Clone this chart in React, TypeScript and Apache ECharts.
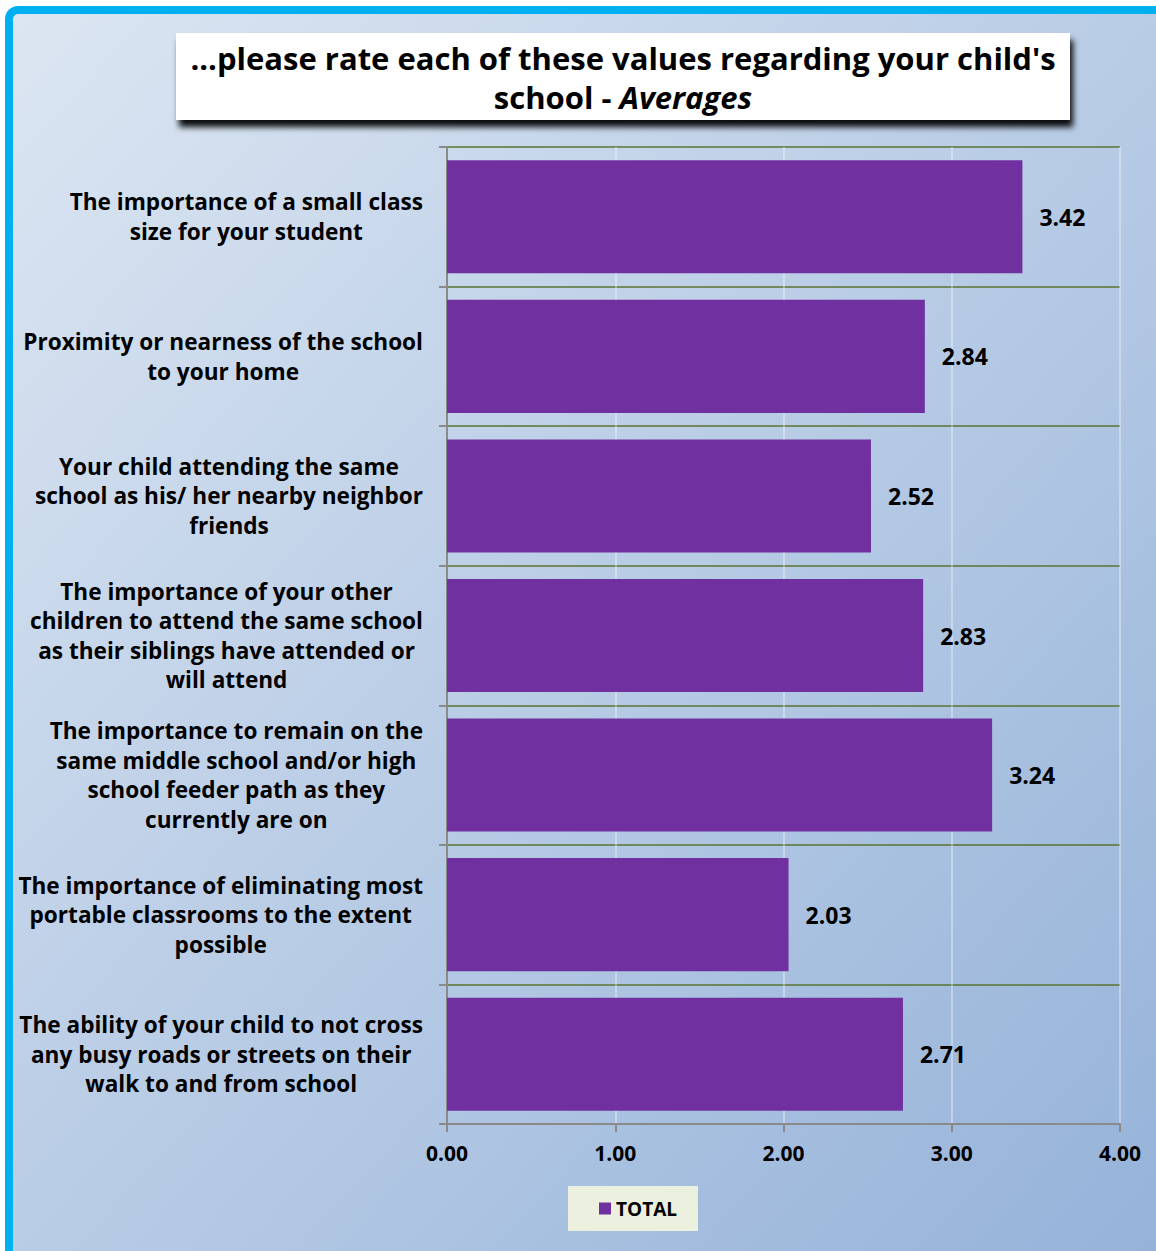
import React, { useEffect, useRef } from "react";
import * as echarts from "echarts";

const categories: string[] = [
  "The importance of a small class\nsize for your student",
  "Proximity or nearness of the school\nto your home",
  "Your child attending the same\nschool as his/ her nearby neighbor\nfriends",
  "The importance of your other\nchildren to attend the same school\nas their siblings have attended or\nwill attend",
  "The importance to remain on the\nsame middle school and/or high\nschool feeder path as they\ncurrently are on",
  "The importance of eliminating most\nportable classrooms to the extent\npossible",
  "The ability of your child to not cross\nany busy roads or streets on their\nwalk to and from school",
];
const totals: number[] = [3.42, 2.84, 2.52, 2.83, 3.24, 2.03, 2.71];
const seriesName = "TOTAL";
const xMin = 0;
const xMax = 4;
const xInterval = 1;
const titleLine1 = "...please rate each of these values regarding your child's";
const titleLine2a = "school - ";
const titleLine2b = "Averages";

const FONT = "'Open Sans', 'DejaVu Sans', sans-serif";
const CAT_SIZE = 22.6;

function measure(text: string, size: number): number {
  const c = document.createElement("canvas").getContext("2d");
  if (!c) return text.length * size * 0.55;
  c.font = `bold ${size}px ${FONT}`;
  return c.measureText(text).width;
}

export default function App() {
  const ref = useRef<HTMLDivElement>(null);
  useEffect(() => {
    if (!ref.current) return;
    const chart = echarts.init(ref.current, undefined, { renderer: "svg" });

    const rich: Record<string, any> = {};
    categories.forEach((cat, i) => {
      const w = Math.max(...cat.split("\n").map((l) => measure(l, CAT_SIZE))) + 2;
      rich["r" + i] = {
        width: w,
        align: "center",
        fontSize: CAT_SIZE,
        fontWeight: "bold",
        fontFamily: FONT,
        color: "#000",
        lineHeight: 29.6,
      };
    });

    chart.setOption({
      animation: false,
      backgroundColor: "#ffffff",
      graphic: [
        {
          type: "rect",
          z: -10,
          silent: true,
          shape: { x: 9, y: 10, width: 1200, height: 1300, r: 9 },
          style: {
            fill: new echarts.graphic.LinearGradient(0, 0, 1, 1, [
              { offset: 0, color: "#DCE6F2" },
              { offset: 1, color: "#92B0D8" },
            ]),
            stroke: "#00B0F0",
            lineWidth: 8,
          },
        },
        {
          type: "rect",
          z: 10,
          shape: { x: 176, y: 33, width: 894, height: 87 },
          style: {
            fill: "#ffffff",
            shadowColor: "rgba(0,0,0,0.95)",
            shadowBlur: 6,
            shadowOffsetX: 3,
            shadowOffsetY: 7,
          },
        },
        {
          type: "text",
          z: 11,
          x: 623,
          y: 77,
          style: {
            text: `{a|${titleLine1}}\n{a|${titleLine2a}}{b|${titleLine2b}}`,
            align: "center",
            verticalAlign: "middle",
            rich: {
              a: { fontSize: 31, fontWeight: "bold", fontFamily: FONT, color: "#000", lineHeight: 39 },
              b: { fontSize: 31, fontWeight: "bold", fontStyle: "italic", fontFamily: FONT, color: "#000", lineHeight: 39 },
            },
          },
        },
      ],
      legend: {
        data: [seriesName],
        left: 568,
        top: 1186,
        icon: "rect",
        itemWidth: 12,
        itemHeight: 12,
        itemGap: 5,
        padding: [13, 21, 13, 31],
        backgroundColor: "#EBF1DE",
        textStyle: { fontSize: 19, fontWeight: "bold", fontFamily: FONT, color: "#000" },
      },
      grid: { left: 447, right: 36, top: 147, bottom: 127, containLabel: false },
      xAxis: {
        type: "value",
        min: xMin,
        max: xMax,
        interval: xInterval,
        axisLine: { show: true, lineStyle: { color: "#8A8A8A", width: 2 } },
        axisTick: { show: true, length: 8, lineStyle: { color: "#8A8A8A", width: 2 } },
        axisLabel: {
          margin: 18,
          fontSize: 21,
          fontWeight: "bold",
          fontFamily: FONT,
          color: "#000",
          formatter: (v: number) => v.toFixed(2),
        },
        splitLine: { show: true, lineStyle: { color: "rgba(255,255,255,0.45)", width: 1.5 } },
      },
      yAxis: {
        type: "category",
        inverse: true,
        data: categories,
        axisLine: { show: true, lineStyle: { color: "#8A8A8A", width: 2 } },
        axisTick: { show: true, length: 8, lineStyle: { color: "#8A8A8A", width: 2 } },
        splitLine: { show: true, lineStyle: { color: "#5A7330", width: 1.5 } },
        axisLabel: {
          margin: 23,
          align: "right",
          formatter: (value: string, index: number) =>
            value
              .split("\n")
              .map((l) => `{r${index}|${l}}`)
              .join("\n"),
          rich,
        },
      },
      series: [
        {
          name: seriesName,
          type: "bar",
          data: totals,
          barCategoryGap: "19%",
          itemStyle: { color: "#7030A0" },
          label: {
            show: true,
            position: "right",
            distance: 17,
            fontSize: 23,
            fontWeight: "bold",
            fontFamily: FONT,
            color: "#000",
            formatter: (p: any) => Number(p.value).toFixed(2),
          },
        },
      ],
    });
    return () => chart.dispose();
  }, []);
  return (
    <div
      ref={ref}
      style={{ position: "absolute", left: 0, top: 0, width: 1156, height: 1251 }}
    />
  );
}
